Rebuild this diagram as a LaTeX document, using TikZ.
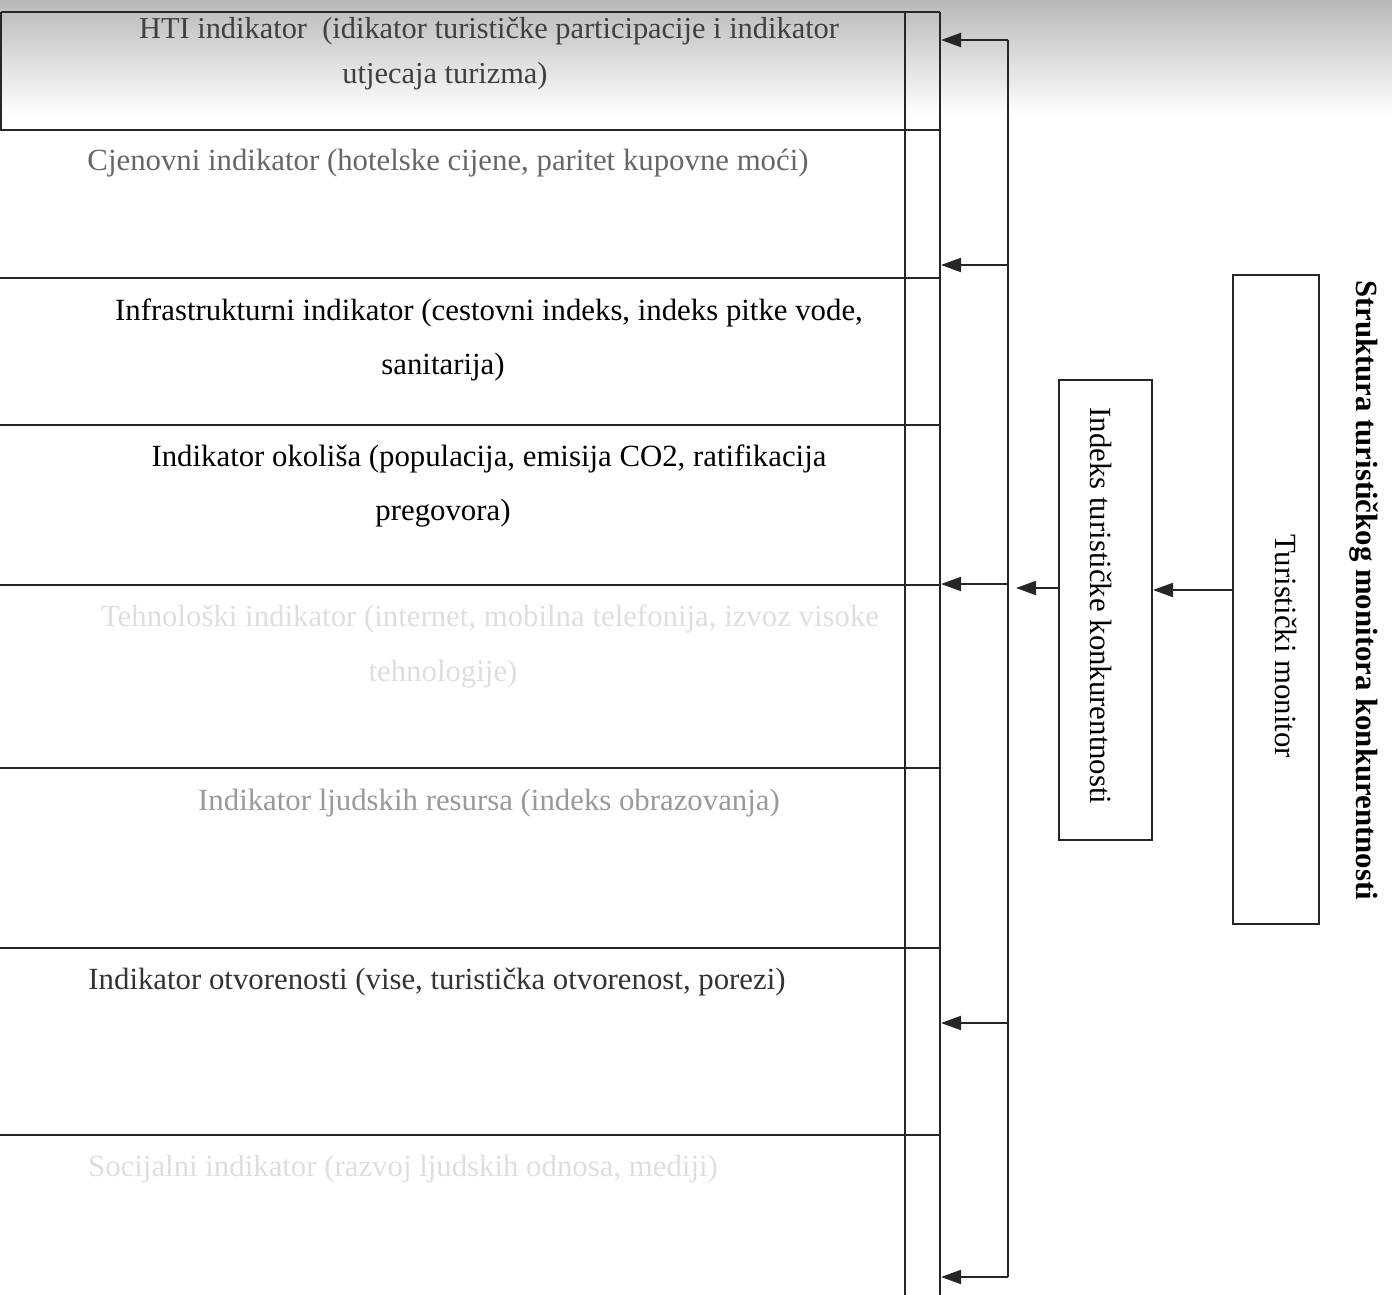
\documentclass[tikz,border=0pt]{standalone}
\usepackage{fontspec}
\setmainfont{Liberation Serif}
\usetikzlibrary{arrows.meta}
\begin{document}
\begin{tikzpicture}[x=0.5pt,y=-0.5pt,
  tline/.style={line width=1pt, draw=black!85},
  arr/.style={line width=1pt, draw=black!85, -{Triangle[length=10pt,width=7pt]}},
  rowtxt/.style={font=\fontsize{15.4}{18}\selectfont, inner sep=0pt, anchor=center},
  toptxt/.style={font=\fontsize{15.2}{18}\selectfont, inner sep=0pt, anchor=center, text=black!75},
  vbox/.style={draw=black!85, line width=1pt, inner sep=0pt}]
\useasboundingbox (0,0) rectangle (1392,1295);
% top shading band
\shade[top color=gray!55, bottom color=white] (0,0) rectangle (1392,115);
% table
\draw[tline] (1,12) -- (940,12);
\draw[tline] (1,12) -- (1,130);
\draw[tline] (905,12) -- (905,1295);
\draw[tline] (940,12) -- (940,1295);
\foreach \yy in {130,278,425,585,768,948,1135}
  \draw[tline] (0,\yy) -- (940,\yy);
% row texts
\node[toptxt] (r1a) at (489,31) {HTI indikator\ \ (idikator turističke participacije i indikator};
\node[toptxt] (r1b) at (445,76) {utjecaja turizma)};
\node[rowtxt, text=black!60] (r2) at (448,163) {Cjenovni indikator (hotelske cijene, paritet kupovne moći)};
\node[rowtxt] (r3a) at (489,313) {Infrastrukturni indikator (cestovni indeks, indeks pitke vode,};
\node[rowtxt] (r3b) at (443,367) {sanitarija)};
\node[rowtxt] (r4a) at (489,459) {Indikator okoliša (populacija, emisija CO2, ratifikacija};
\node[rowtxt] (r4b) at (443,513) {pregovora)};
\node[rowtxt, text=black!13] (r5a) at (490,619) {Tehnološki indikator (internet, mobilna telefonija, izvoz visoke};
\node[rowtxt, text=black!13] (r5b) at (443,674) {tehnologije)};
\node[rowtxt, text=black!40] (r6) at (489,803) {Indikator ljudskih resursa (indeks obrazovanja)};
\node[rowtxt, text=black!80] (r7) at (437,982) {Indikator otvorenosti (vise, turistička otvorenost, porezi)};
\node[rowtxt, text=black!13] (r8) at (403,1169) {Socijalni indikator (razvoj ljudskih odnosa, mediji)};
% bracket and arrows
\coordinate (bk1) at (1008,40);
\coordinate (bk2) at (1008,265);
\coordinate (bk3) at (1008,584);
\coordinate (bk4) at (1008,1023);
\coordinate (bk5) at (1008,1277);
\coordinate (t1) at (941,40);
\coordinate (t2) at (941,265);
\coordinate (t3) at (941,584);
\coordinate (t4) at (941,1023);
\coordinate (t5) at (941,1277);
\draw[tline] (bk1) -- (bk5);
\draw[arr] (bk1) -- (t1);
\draw[arr] (bk2) -- (t2);
\draw[arr] (bk3) -- (t3);
\draw[arr] (bk4) -- (t4);
\draw[arr] (bk5) -- (t5);
% boxes
\node[vbox, minimum width=46.5pt, minimum height=230pt] (ind) at (1105.5,610) {};
\node[rotate=-90, rowtxt] (indt) at (1101,606) {Indeks turističke konkurentnosti};
\node[vbox, minimum width=43pt, minimum height=324.5pt] (tm) at (1276,599.5) {};
\node[rotate=-90, rowtxt] (tmt) at (1286,646) {Turistički monitor};
\node[rotate=-90, font=\fontsize{15.4}{18}\selectfont\bfseries, inner sep=0pt] (title) at (1364,590) {Struktura turističkog monitora konkurentnosti};
\coordinate (a1) at (1016,588);
\draw[arr] (ind.west |- a1) -- (a1);
\draw[arr] (tm.west |- 0,590) -- (ind.east |- 0,590);
\end{tikzpicture}
\end{document}
